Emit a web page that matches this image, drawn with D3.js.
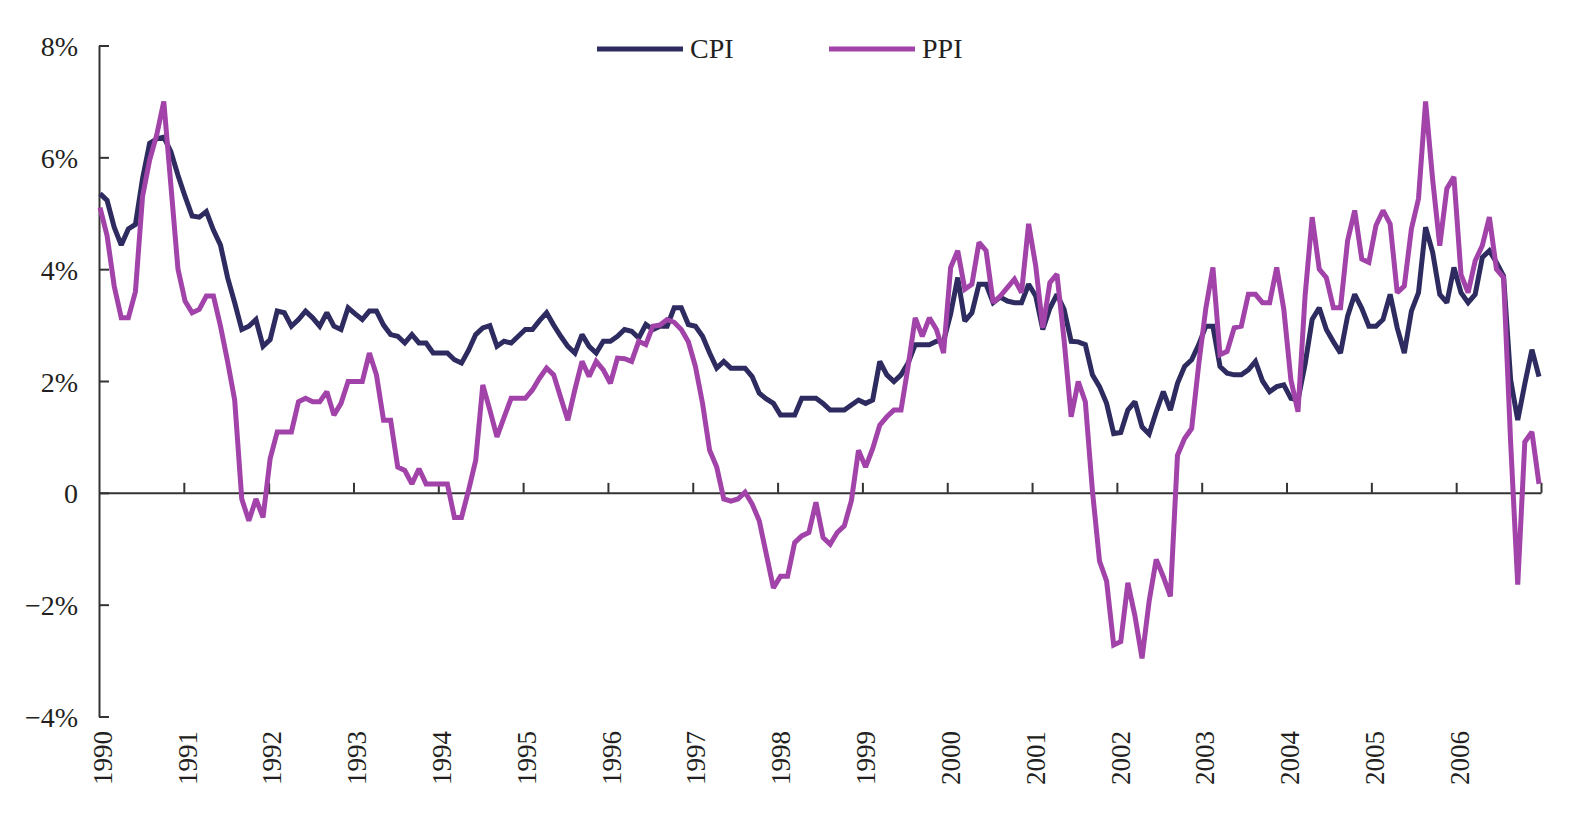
<!DOCTYPE html>
<html>
<head>
<meta charset="utf-8">
<script src="https://cdn.jsdelivr.net/npm/d3@7"></script>
<style>
    body { margin: 0; background: #fff; }
    svg text { font-family: "Liberation Serif", "Times New Roman", serif; fill: #231f20; }
</style>
</head>
<body>
<svg id="chart" width="1586" height="821"></svg>
<script>
// year labels on the time axis (the axis runs 1990 -> 2007)
var years = [1990, 1991, 1992, 1993, 1994, 1995, 1996, 1997, 1998,
    1999, 2000, 2001, 2002, 2003, 2004, 2005, 2006];

var yTicks = [-4, -2, 0, 2, 4, 6, 8];
var yTickLabels = ["\u22124%", "\u22122%", "0", "2%", "4%", "6%", "8%"];

var seriesNames = ["CPI", "PPI"];
var seriesColors = ["#2d2b5f", "#a243aa"];

// monthly year-over-year change, %, one row per 12 months
var cpi = [
    5.35, 5.23, 4.75, 4.43, 4.72, 4.8, 5.62, 6.25, 6.33, 6.36, 6.1, 5.68,
    5.3, 4.95, 4.93, 5.03, 4.7, 4.43, 3.85, 3.4, 2.92, 2.98, 3.1, 2.62,
    2.74, 3.25, 3.22, 2.98, 3.1, 3.25, 3.13, 2.98, 3.22, 2.98, 2.92, 3.31,
    3.2, 3.1, 3.25, 3.25, 3.0, 2.83, 2.8, 2.68, 2.83, 2.68, 2.68, 2.5,
    2.5, 2.5, 2.38, 2.32, 2.55, 2.83, 2.95, 2.99, 2.62, 2.71, 2.68, 2.8,
    2.92, 2.92, 3.08, 3.22, 3.0, 2.8, 2.62, 2.5, 2.83, 2.62, 2.5, 2.71,
    2.71, 2.8, 2.92, 2.89, 2.77, 3.01, 2.92, 2.98, 2.98, 3.31, 3.31, 3.01,
    2.98, 2.8, 2.5, 2.23, 2.35, 2.23, 2.23, 2.23, 2.08, 1.78, 1.68, 1.6,
    1.39, 1.39, 1.39, 1.69, 1.69, 1.69, 1.6, 1.48, 1.48, 1.48, 1.57, 1.66,
    1.6, 1.66, 2.35, 2.11, 1.99, 2.11, 2.32, 2.65, 2.65, 2.65, 2.71, 2.71,
    3.2, 3.85, 3.07, 3.22, 3.73, 3.73, 3.4, 3.5, 3.43, 3.4, 3.4, 3.73,
    3.52, 2.92, 3.3, 3.55, 3.28, 2.71, 2.7, 2.65, 2.11, 1.9, 1.6, 1.06,
    1.08, 1.48, 1.63, 1.18, 1.05, 1.45, 1.81, 1.48, 1.96, 2.26, 2.38, 2.65,
    2.98, 2.98, 2.26, 2.14, 2.11, 2.11, 2.2, 2.35, 2.0, 1.81, 1.9, 1.93,
    1.69, 1.66, 2.3, 3.1, 3.31, 2.92, 2.7, 2.5, 3.16, 3.55, 3.3, 2.98,
    2.98, 3.1, 3.55, 2.95, 2.5, 3.25, 3.58, 4.75, 4.3, 3.55, 3.4, 4.03,
    3.58, 3.4, 3.55, 4.21, 4.33, 4.12, 3.88, 2.02, 1.3, 1.95, 2.56, 2.08
];

var ppi = [
    5.1, 4.6, 3.7, 3.13, 3.13, 3.6, 5.3, 5.95, 6.4, 7.0, 5.5, 4.0,
    3.43, 3.22, 3.28, 3.52, 3.52, 2.98, 2.35, 1.66, -0.11, -0.5, -0.11, -0.44,
    0.61, 1.09, 1.09, 1.09, 1.63, 1.69, 1.63, 1.63, 1.81, 1.39, 1.6, 1.99,
    1.99, 1.99, 2.5, 2.11, 1.3, 1.3, 0.46, 0.4, 0.16, 0.43, 0.16, 0.16,
    0.16, 0.16, -0.44, -0.44, 0.05, 0.58, 1.93, 1.48, 1.0, 1.35, 1.69, 1.69,
    1.69, 1.84, 2.05, 2.23, 2.11, 1.7, 1.3, 1.85, 2.35, 2.08, 2.35, 2.2,
    1.96, 2.41, 2.4, 2.35, 2.71, 2.65, 2.98, 3.0, 3.1, 3.05, 2.92, 2.7,
    2.26, 1.6, 0.76, 0.46, -0.11, -0.15, -0.11, 0.01, -0.2, -0.5, -1.1, -1.7,
    -1.49, -1.49, -0.89, -0.77, -0.71, -0.17, -0.8, -0.92, -0.71, -0.59, -0.14, 0.76,
    0.46, 0.79, 1.21, 1.36, 1.48, 1.48, 2.26, 3.13, 2.8, 3.13, 2.92, 2.5,
    4.03, 4.33, 3.64, 3.73, 4.48, 4.33, 3.4, 3.52, 3.67, 3.82, 3.58, 4.81,
    4.06, 2.95, 3.76, 3.91, 2.74, 1.36, 1.99, 1.63, 0.04, -1.22, -1.58, -2.72,
    -2.66, -1.61, -2.2, -2.96, -1.94, -1.19, -1.5, -1.85, 0.67, 0.97, 1.15, 2.3,
    3.3, 4.03, 2.47, 2.53, 2.95, 2.98, 3.55, 3.55, 3.4, 3.4, 4.03, 3.28,
    2.02, 1.45, 3.52, 4.93, 4.0, 3.85, 3.31, 3.31, 4.51, 5.05, 4.18, 4.12,
    4.78, 5.05, 4.81, 3.58, 3.7, 4.72, 5.26, 7.0, 5.6, 4.42, 5.44, 5.65,
    3.9, 3.58, 4.15, 4.42, 4.93, 4.0, 3.85, 0.9, -1.64, 0.91, 1.09, 0.16
];

var svg = d3.select("#chart");

// axis in years; the monthly series is stretched across the whole axis
var x = d3.scaleLinear().domain([1990, 2007]).range([99, 1541]);
var xm = d3.scaleLinear().domain([0, cpi.length - 1]).range([100, 1539]);
var y = d3.scaleLinear().domain([-4, 8]).range([716.5, 45.5]);

// value axis, ticks pointing into the plot
var yAxis = d3.axisLeft(y)
    .tickValues(yTicks)
    .tickSizeInner(-10)
    .tickSizeOuter(0)
    .tickPadding(21)
    .tickFormat(function (d, i) { return yTickLabels[i]; });

var gy = svg.append("g")
    .attr("transform", "translate(" + x(1990) + ",0)")
    .call(yAxis);
gy.selectAll("text")
    .attr("font-size", 28)
    .attr("font-family", null)
    .attr("dy", "0.36em");

// time axis sits on the zero line, ticks up
var xAxis = d3.axisBottom(x)
    .tickValues(d3.range(1991, 2008))
    .tickSizeInner(-10)
    .tickSizeOuter(0)
    .tickFormat("");

var gx = svg.append("g")
    .attr("transform", "translate(0," + y(0) + ")")
    .call(xAxis);

svg.selectAll(".domain, .tick line")
    .attr("stroke", "#333")
    .attr("stroke-width", 2);

// rotated year labels under the plot
svg.append("g").selectAll("text")
    .data(years)
    .enter().append("text")
    .attr("transform", function (d) { return "translate(" + x(d) + ",731) rotate(-90)"; })
    .attr("text-anchor", "end")
    .attr("dy", "0.47em")
    .attr("font-size", 27)
    .text(function (d) { return d; });

// the two series, PPI drawn on top
var line = d3.line()
    .x(function (d, i) { return xm(i); })
    .y(function (d) { return y(d); });

[cpi, ppi].forEach(function (values, k) {
    svg.append("path")
        .datum(values)
        .attr("fill", "none")
        .attr("stroke", seriesColors[k])
        .attr("stroke-width", 5)
        .attr("stroke-linejoin", "miter")
        .attr("stroke-miterlimit", 2)
        .attr("d", line);
});

// legend
var legend = svg.append("g").selectAll("g")
    .data(seriesNames)
    .enter().append("g")
    .attr("transform", function (d, i) { return "translate(" + (597 + i * 232) + ",49)"; });

legend.append("line")
    .attr("x1", 0)
    .attr("x2", 86)
    .attr("stroke", function (d, i) { return seriesColors[i]; })
    .attr("stroke-width", 5);

legend.append("text")
    .attr("x", 93)
    .attr("y", 9)
    .attr("font-size", 28)
    .text(function (d) { return d; });
</script>
</body>
</html>
